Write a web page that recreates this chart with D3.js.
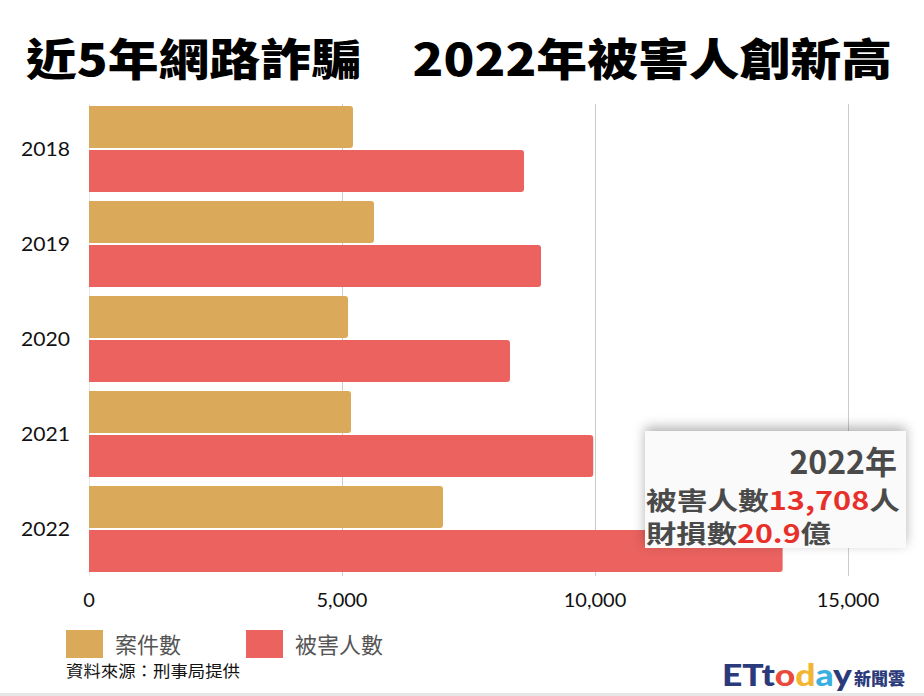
<!DOCTYPE html>
<html><head><meta charset="utf-8">
<script src="https://cdn.jsdelivr.net/npm/d3@7"></script>
<style>
html,body{margin:0;padding:0;background:#fff;}
svg{display:block;}
</style></head>
<body>
<script>
const years = ["2018","2019","2020","2021","2022"];
const cases = [5217, 5632, 5119, 5178, 6996];
const victims = [8597, 8933, 8320, 9965, 13708];
const seriesNames = ["案件數","被害人數"];
const seriesColors = ["#dba95a","#eb625f"];
const xTicks = [0, 5000, 10000, 15000];
const title = "近5年網路詐騙　2022年被害人創新高";
const source = "資料來源：刑事局提供";

const W = 924, H = 696;
const svg = d3.select("body").append("svg").attr("width", W).attr("height", H);
const defs = svg.append("defs");
const f = defs.append("filter").attr("id","sh").attr("x","-20%").attr("y","-40%").attr("width","140%").attr("height","180%");
f.append("feDropShadow").attr("dx",0).attr("dy",-4).attr("stdDeviation",6).attr("flood-color","#000").attr("flood-opacity",0.3);

svg.append("rect").attr("x",0).attr("y",H-3).attr("width",W).attr("height",3).attr("fill","#e6e6e6");

svg.append("text").attr("x", 459).attr("y", 76).attr("text-anchor","middle")
  .attr("font-family","'Noto Sans CJK TC', sans-serif").attr("font-weight",900)
  .attr("font-size",44).attr("fill","#000").attr("textLength",866).attr("lengthAdjust","spacingAndGlyphs")
  .text(title);

const x = d3.scaleLinear().domain([0,15000]).range([89,848]);
const y0 = d3.scaleBand().domain(years).range([106, 572]).paddingInner(0.0947).paddingOuter(0);
const y1 = d3.scaleBand().domain([0,1]).range([0, y0.bandwidth()]).paddingInner(0.045);

// grid
svg.append("g").selectAll("line").data(xTicks).join("line")
  .attr("x1",d=>x(d)+0.5).attr("x2",d=>x(d)+0.5).attr("y1",104).attr("y2",576)
  .attr("stroke",d=>d===0?"#e8e8e8":"#cccccc").attr("stroke-width",1);

function barPath(x0, x1, yT, h, r){
  r = Math.min(r, (x1-x0)/2);
  return `M${x0},${yT}H${x1-r}Q${x1},${yT} ${x1},${yT+r}V${yT+h-r}Q${x1},${yT+h} ${x1-r},${yT+h}H${x0}Z`;
}
const rows = years.map((yr,i)=>({yr, vals:[cases[i], victims[i]]}));
const g = svg.append("g");
rows.forEach(r=>{
  r.vals.forEach((v,k)=>{
    g.append("path").attr("d", barPath(x(0), x(v), y0(r.yr)+y1(k), y1.bandwidth(), 3))
      .attr("fill", seriesColors[k]);
  });
});

// y labels
svg.append("g").selectAll("text").data(years).join("text")
  .attr("x",70).attr("y",d=>y0(d)+y0.bandwidth()/2+7).attr("text-anchor","end")
  .attr("font-family","Lato, 'Open Sans', sans-serif").attr("font-size",20).attr("fill","#111")
  .attr("textLength",49).attr("lengthAdjust","spacingAndGlyphs")
  .text(d=>d);

// x labels
svg.append("g").selectAll("text").data(xTicks).join("text")
  .attr("x",d=>x(d)).attr("y",607).attr("text-anchor","middle")
  .attr("font-family","Lato, 'Open Sans', sans-serif").attr("font-size",20).attr("fill","#111")
  .text(d=>d3.format(",")(d));

// annotation
const ann = svg.append("g");
ann.append("rect").attr("x",645).attr("y",431).attr("width",261).attr("height",117).attr("fill","#fafafa").attr("filter","url(#sh)");
ann.append("text").attr("x",897).attr("y",474).attr("text-anchor","end")
  .attr("font-family","'Noto Sans CJK TC', sans-serif").attr("font-weight",700).attr("font-size",32).attr("fill","#4a4a4a")
  .text("2022年");
const t2 = ann.append("text").attr("x",646).attr("y",510)
  .attr("font-family","'Noto Sans CJK TC', sans-serif").attr("font-weight",700).attr("font-size",25).attr("fill","#4a4a4a")
  .attr("textLength",254).attr("lengthAdjust","spacingAndGlyphs");
t2.append("tspan").text("被害人數");
t2.append("tspan").attr("fill","#e8302a").text(d3.format(",")(victims[4]));
t2.append("tspan").text("人");
const t3 = ann.append("text").attr("x",646).attr("y",543)
  .attr("font-family","'Noto Sans CJK TC', sans-serif").attr("font-weight",700).attr("font-size",25).attr("fill","#4a4a4a")
  .attr("textLength",185).attr("lengthAdjust","spacingAndGlyphs");
t3.append("tspan").text("財損數");
t3.append("tspan").attr("fill","#e8302a").text("20.9");
t3.append("tspan").text("億");

// legend
const lg = svg.append("g");
const lx = [66, 246];
seriesNames.forEach((n,k)=>{
  lg.append("rect").attr("x",lx[k]).attr("y",630).attr("width",37).attr("height",28).attr("fill",seriesColors[k]);
  lg.append("text").attr("x",lx[k]+49).attr("y",653)
    .attr("font-family","'Noto Sans CJK TC', sans-serif").attr("font-size",22).attr("fill","#555").text(n);
});
svg.append("text").attr("x",66).attr("y",677)
  .attr("font-family","'Noto Sans CJK TC', sans-serif").attr("font-size",16).attr("fill","#111")
  .attr("textLength",174).attr("lengthAdjust","spacingAndGlyphs").text(source);

// logo
const logo = svg.append("text").attr("x",722).attr("y",686)
  .attr("font-family","Lato, 'Open Sans', sans-serif").attr("font-weight",900).attr("font-size",30)
  .attr("textLength",130).attr("lengthAdjust","spacingAndGlyphs");
[["E","#2b3a7a"],["T","#2b3a7a"],["t","#2b3a7a"],["o","#e84a3c"],["d","#f2b632"],["a","#3ab0e2"],["y","#2b3a7a"]].forEach(([c,col])=>logo.append("tspan").attr("fill",col).text(c));
svg.append("text").attr("x",905).attr("y",685).attr("text-anchor","end")
  .attr("font-family","'Noto Sans CJK TC', sans-serif").attr("font-weight",900).attr("font-size",17).attr("fill","#2b3a7a").text("新聞雲");
</script>
</body></html>
